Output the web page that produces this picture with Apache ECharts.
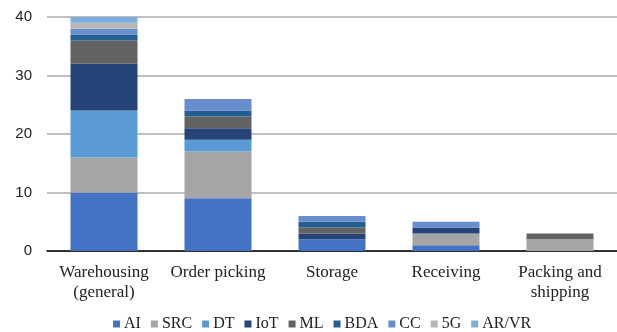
<!DOCTYPE html>
<html><head><meta charset="utf-8">
<script src="https://cdn.jsdelivr.net/npm/echarts@6/dist/echarts.min.js"></script>
<style>html,body{margin:0;padding:0;background:#fff}#c{width:617px;height:332px}</style>
</head><body><div id="c"></div>
<script>
const categories = ["Warehousing\n(general)", "Order picking", "Storage", "Receiving", "Packing and\nshipping"];
const seriesNames = ["AI", "SRC", "DT", "IoT", "ML", "BDA", "CC", "5G", "AR/VR"];
const AI    = [10, 9, 2, 1, 0];
const SRC   = [6, 8, 0, 2, 2];
const DT    = [8, 2, 0, 0, 0];
const IoT   = [8, 2, 1, 1, 0];
const ML    = [4, 2, 1, 0, 1];
const BDA   = [1, 1, 1, 0, 0];
const CC    = [1, 2, 1, 1, 0];
const G5    = [1, 0, 0, 0, 0];
const ARVR  = [1, 0, 0, 0, 0];
const yTicks = [0, 10, 20, 30, 40];

const values = [AI, SRC, DT, IoT, ML, BDA, CC, G5, ARVR];
const colors = ["#4472C4", "#A5A5A5", "#5B9BD5", "#264478", "#636363", "#255E91", "#698ED0", "#B7B7B7", "#7CAFDD"];

const chart = echarts.init(document.getElementById('c'), null, {renderer: 'canvas'});
chart.setOption({
  animation: false,
  color: colors,
  grid: {left: 47, right: 0, top: 17, bottom: 81, containLabel: false},
  legend: {
    bottom: 0, left: 113, padding: 0, itemWidth: 7, itemHeight: 7, itemGap: 10,
    icon: 'rect',
    textStyle: {fontFamily: 'Liberation Serif', fontSize: 16, color: '#222', padding: [0, 0, 0, -1]},
    data: seriesNames
  },
  xAxis: {
    type: 'category', data: categories,
    axisLine: {lineStyle: {color: '#000', width: 1.5}},
    axisTick: {show: false},
    axisLabel: {fontFamily: 'Liberation Serif', fontSize: 17, color: '#222', lineHeight: 20, margin: 12, interval: 0}
  },
  yAxis: {
    type: 'value', min: yTicks[0], max: yTicks[yTicks.length - 1], interval: 10,
    axisLine: {show: false}, axisTick: {show: false},
    splitLine: {lineStyle: {color: '#ABABAB', width: 1.5}},
    axisLabel: {fontFamily: 'Liberation Sans', fontSize: 15, color: '#222', margin: 15}
  },
  series: seriesNames.map((n, i) => ({
    name: n, type: 'bar', stack: 'total', barWidth: 67,
    data: values[i].map(v => v === 0 ? null : v),
    itemStyle: {color: colors[i]}
  }))
});
</script></body></html>
